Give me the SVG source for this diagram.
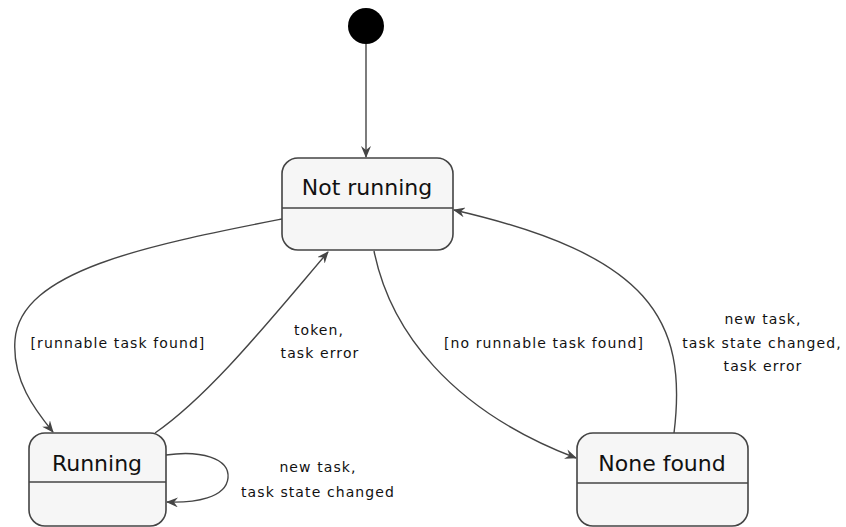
<svg xmlns="http://www.w3.org/2000/svg" width="846" height="527" viewBox="0 0 846 527">
<style>
.box{fill:#F6F6F6;stroke:#444;stroke-width:1.6}
.div{stroke:#444;stroke-width:1.6}
.t{font-family:"DejaVu Sans",sans-serif;font-size:22px;fill:#111;text-anchor:middle}
.l{font-family:"DejaVu Sans",sans-serif;font-size:14px;letter-spacing:1.1px;fill:#111;text-anchor:middle}
.e{fill:none;stroke:#454545;stroke-width:1.4;marker-end:url(#ah)}
</style>
<defs>
<marker id="ah" viewBox="0 0 12 10" refX="11" refY="5" markerWidth="12" markerHeight="10" markerUnits="userSpaceOnUse" orient="auto">
<path d="M0,0 L12,5 L0,10 L4,5 Z" fill="#454545"/>
</marker>
</defs>
<rect width="846" height="527" fill="#fff"/>
<g id="edges">
<path class="e" d="M366,44 L366,157"/>
<path class="e" d="M282,219 C150,245 20,270 15,340 C12,380 35,410 53,432"/>
<path class="e" d="M155,433 C210,395 270,320 328,252"/>
<path class="e" d="M374,251 C390,330 450,410 576,458"/>
<path class="e" d="M674,433 C688,320 650,255 454,210"/>
<path class="e" d="M166,455 C200,450 230,458 228,478 C226,498 195,503 167,502"/>
<text class="l" x="118" y="348">[runnable task found]</text>
<text class="l" x="319" y="335">token,</text>
<text class="l" x="320" y="358">task error</text>
<text class="l" x="544" y="348">[no runnable task found]</text>
<text class="l" x="763" y="324">new task,</text>
<text class="l" x="762" y="348">task state changed,</text>
<text class="l" x="763" y="371">task error</text>
<text class="l" x="318" y="472">new task,</text>
<text class="l" x="318" y="497">task state changed</text>
</g>
<g id="start"><circle cx="366" cy="26" r="18" fill="#000"/></g>
<g id="notrunning">
<rect class="box" x="282" y="158" width="171" height="92" rx="16"/>
<line class="div" x1="282" y1="208" x2="453" y2="208"/>
<text class="t" x="367" y="195">Not running</text>
</g>
<g id="running">
<rect class="box" x="29" y="433" width="137" height="93" rx="16"/>
<line class="div" x1="29" y1="482" x2="166" y2="482"/>
<text class="t" x="97" y="471">Running</text>
</g>
<g id="nonefound">
<rect class="box" x="577" y="433" width="171" height="93" rx="16"/>
<line class="div" x1="577" y1="483" x2="748" y2="483"/>
<text class="t" x="662" y="471">None found</text>
</g>
</svg>
